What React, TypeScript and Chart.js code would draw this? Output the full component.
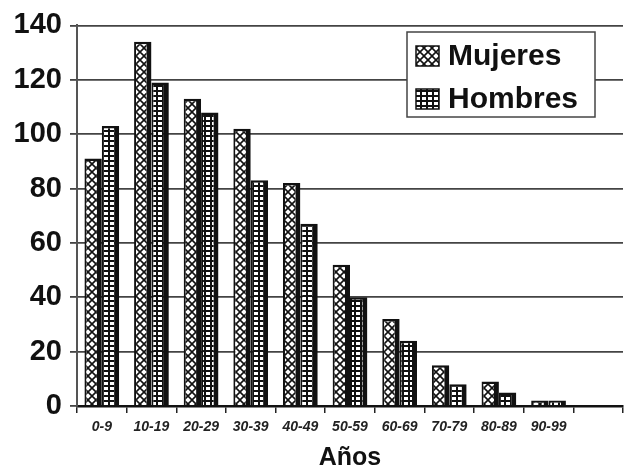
import React, { useEffect, useRef } from 'react';
import { Chart, registerables } from 'chart.js';

Chart.register(...registerables);

const categories = ['0-9', '10-19', '20-29', '30-39', '40-49', '50-59', '60-69', '70-79', '80-89', '90-99', ''];
const mujeres = [91, 134, 113, 102, 82, 52, 32, 15, 9, 2, null];
const hombres = [103, 119, 108, 83, 67, 40, 24, 8, 5, 2, null];
const yTicks = [0, 20, 40, 60, 80, 100, 120, 140];
const seriesNames = ['Mujeres', 'Hombres'];
const xTitle = 'Años';

const FONT = '"Liberation Sans", Arial, sans-serif';

function makePattern(kind: 'cross' | 'grid'): CanvasPattern | string {
  const c = document.createElement('canvas');
  const ctx = c.getContext('2d');
  if (!ctx) return '#888';
  if (kind === 'cross') {
    c.width = 8;
    c.height = 8;
    ctx.fillStyle = '#fff';
    ctx.fillRect(0, 0, 8, 8);
    ctx.strokeStyle = '#111';
    ctx.lineWidth = 1.6;
    ctx.beginPath();
    ctx.moveTo(-1, -1);
    ctx.lineTo(9, 9);
    ctx.moveTo(9, -1);
    ctx.lineTo(-1, 9);
    ctx.stroke();
  } else {
    c.width = 6;
    c.height = 5;
    ctx.fillStyle = '#fff';
    ctx.fillRect(0, 0, 6, 5);
    ctx.fillStyle = '#111';
    ctx.fillRect(0, 0, 2, 5);
    ctx.fillRect(0, 0, 6, 2);
  }
  return ctx.createPattern(c, 'repeat') || '#888';
}

export default function App() {
  const ref = useRef<HTMLCanvasElement>(null);

  useEffect(() => {
    document.body.style.margin = '0';
    const canvas = ref.current;
    if (!canvas) return;
    const pm = makePattern('cross');
    const ph = makePattern('grid');

    const legendPlugin = {
      id: 'boxLegend',
      afterDraw(chart: any) {
        const ctx = chart.ctx as CanvasRenderingContext2D;
        ctx.save();
        const bx = 407, by = 32, bw = 188, bh = 85;
        ctx.fillStyle = '#fff';
        ctx.fillRect(bx, by, bw, bh);
        ctx.strokeStyle = '#444';
        ctx.lineWidth = 1.5;
        ctx.strokeRect(bx, by, bw, bh);
        const fills = [pm, ph];
        const ys = [56, 99];
        seriesNames.forEach((name, i) => {
          const sy = ys[i];
          ctx.fillStyle = fills[i] as any;
          ctx.fillRect(416, sy - 10, 23, 20);
          ctx.strokeStyle = '#111';
          ctx.lineWidth = 1.5;
          ctx.strokeRect(416, sy - 10, 23, 20);
          ctx.fillStyle = '#111';
          ctx.font = `bold 30px ${FONT}`;
          ctx.textBaseline = 'middle';
          ctx.textAlign = 'left';
          ctx.fillText(name, 448, sy + 1);
        });
        ctx.restore();
      },
    };

    const chart = new Chart(canvas, {
      type: 'bar',
      data: {
        labels: categories,
        datasets: [
          {
            label: seriesNames[0],
            data: mujeres,
            backgroundColor: pm as any,
            borderColor: '#111',
            borderWidth: { top: 2.5, left: 2, right: 5, bottom: 0 },
            borderSkipped: 'bottom',
            categoryPercentage: 0.7,
            barPercentage: 1,
          },
          {
            label: seriesNames[1],
            data: hombres,
            backgroundColor: ph as any,
            borderColor: '#111',
            borderWidth: { top: 2.5, left: 2, right: 5, bottom: 0 },
            borderSkipped: 'bottom',
            categoryPercentage: 0.7,
            barPercentage: 1,
          },
        ],
      },
      options: {
        responsive: false,
        animation: false,
        layout: { padding: { left: 0, right: 3, top: 20, bottom: 0 } },
        plugins: {
          legend: { display: false },
          tooltip: { enabled: false },
        },
        scales: {
          x: {
            offset: true,
            grid: {
              display: true,
              drawOnChartArea: false,
              drawTicks: true,
              offset: true,
              tickLength: 7,
              color: '#222',
              lineWidth: 1.5,
            },
            border: { display: true, color: '#111', width: 2.5 },
            ticks: {
              color: '#222',
              padding: 6,
              maxRotation: 0,
              autoSkip: false,
              font: { family: FONT, size: 14, style: 'italic', weight: 'bold' },
            },
            title: {
              display: true,
              text: xTitle,
              color: '#111',
              padding: 0,
              font: { family: FONT, size: 25, weight: 'bold', lineHeight: 0.65 },
            },
            afterFit(scale: any) {
              scale.height = 60;
            },
          },
          y: {
            min: 0,
            max: 140,
            afterBuildTicks(scale: any) {
              scale.ticks = yTicks.map((v) => ({ value: v }));
            },
            grid: {
              color: '#444',
              lineWidth: 1.8,
              tickLength: 7,
              drawTicks: true,
            },
            border: { display: true, color: '#555', width: 2 },
            ticks: {
              color: '#111',
              padding: 8,
              font: { family: FONT, size: 29, weight: 'bold' },
            },
            afterFit(scale: any) {
              scale.width = 77;
            },
          },
        },
      },
      plugins: [legendPlugin],
    });

    return () => chart.destroy();
  }, []);

  return (
    <div style={{ position: 'absolute', left: 0, top: 0, width: 626, height: 466 }}>
      <canvas ref={ref} width={626} height={466} />
    </div>
  );
}
